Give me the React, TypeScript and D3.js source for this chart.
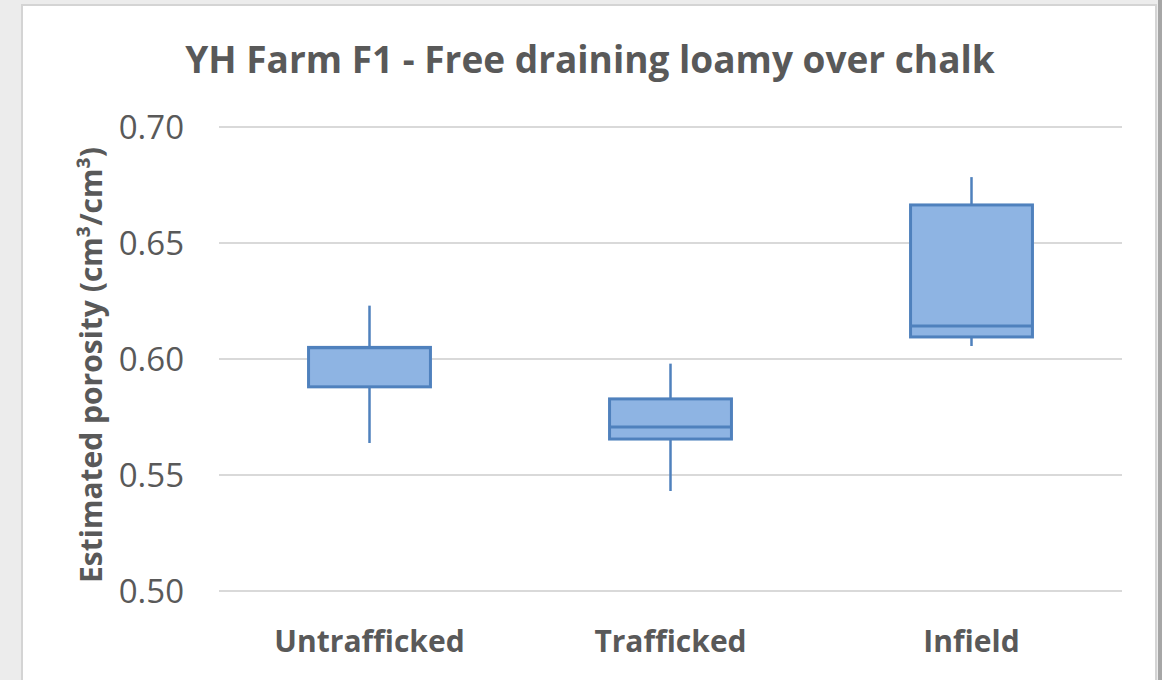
import React, { useRef, useEffect } from 'react';
import * as d3 from 'd3';

const categories = ['Untrafficked', 'Trafficked', 'Infield'];
const whiskerLow = [0.5638, 0.5431, 0.6056];
const q1 = [0.588, 0.5655, 0.6095];
const median = [0.6048, 0.5707, 0.6142];
const q3 = [0.605, 0.5828, 0.6664];
const whiskerHigh = [0.623, 0.598, 0.6784];
const yTicks = [0.5, 0.55, 0.6, 0.65, 0.7];

const title = 'YH Farm F1 - Free draining loamy over chalk';
const yLabel = 'Estimated porosity (cm³/cm³)';

const App = () => {
  const ref = useRef<SVGSVGElement>(null);

  useEffect(() => {
    const svg = d3.select(ref.current);
    svg.selectAll('*').remove();

    const width = 1162;
    const height = 680;
    const margin = { top: 127, right: 40, bottom: 89, left: 219 };
    const font = "'Open Sans', sans-serif";
    const textColor = '#595959';

    // frame / background
    svg.append('rect').attr('width', width).attr('height', height).attr('fill', '#ececec');
    svg.append('rect')
      .attr('x', 22).attr('y', 5)
      .attr('width', 1134).attr('height', height)
      .attr('fill', 'white')
      .attr('stroke', '#d4d4d4')
      .attr('stroke-width', 2);
    svg.append('rect').attr('x', 1158).attr('y', 0).attr('width', 4).attr('height', height).attr('fill', '#a6a6a6');

    const x = d3.scaleBand()
      .domain(categories)
      .range([margin.left, width - margin.right])
      .padding(0);

    const y = d3.scaleLinear()
      .domain([0.5, 0.7])
      .range([height - margin.bottom, margin.top]);

    // gridlines
    svg.append('g')
      .selectAll('line')
      .data(yTicks)
      .enter()
      .append('line')
      .attr('x1', margin.left)
      .attr('x2', width - margin.right)
      .attr('y1', d => y(d))
      .attr('y2', d => y(d))
      .attr('stroke', '#d9d9d9')
      .attr('stroke-width', 2);

    // y tick labels
    svg.append('g')
      .selectAll('text')
      .data(yTicks)
      .enter()
      .append('text')
      .attr('x', 184)
      .attr('y', d => y(d))
      .attr('dy', '0.35em')
      .attr('text-anchor', 'end')
      .attr('font-family', font)
      .attr('font-size', 33)
      .attr('fill', textColor)
      .text(d => d.toFixed(2));

    // x labels
    svg.append('g')
      .selectAll('text')
      .data(categories)
      .enter()
      .append('text')
      .attr('x', d => (x(d) as number) + x.bandwidth() / 2)
      .attr('y', 652)
      .attr('text-anchor', 'middle')
      .attr('font-family', font)
      .attr('font-weight', 'bold')
      .attr('font-size', 30)
      .attr('fill', textColor)
      .text(d => d);

    // boxes
    const boxW = x.bandwidth() * 0.405;
    const stroke = '#4f81bd';
    const g = svg.append('g');
    categories.forEach((c, i) => {
      const cx = (x(c) as number) + x.bandwidth() / 2;
      g.append('line')
        .attr('x1', cx).attr('x2', cx)
        .attr('y1', y(whiskerHigh[i])).attr('y2', y(q3[i]))
        .attr('stroke', stroke).attr('stroke-width', 2.5);
      g.append('line')
        .attr('x1', cx).attr('x2', cx)
        .attr('y1', y(q1[i])).attr('y2', y(whiskerLow[i]))
        .attr('stroke', stroke).attr('stroke-width', 2.5);
      g.append('rect')
        .attr('x', cx - boxW / 2)
        .attr('y', y(q3[i]))
        .attr('width', boxW)
        .attr('height', y(q1[i]) - y(q3[i]))
        .attr('fill', '#8eb4e3')
        .attr('stroke', stroke)
        .attr('stroke-width', 3);
      g.append('line')
        .attr('x1', cx - boxW / 2).attr('x2', cx + boxW / 2)
        .attr('y1', y(median[i])).attr('y2', y(median[i]))
        .attr('stroke', stroke).attr('stroke-width', 3);
    });

    // title
    svg.append('text')
      .attr('x', 590)
      .attr('y', 73)
      .attr('text-anchor', 'middle')
      .attr('font-family', font)
      .attr('font-weight', 'bold')
      .attr('font-size', 37)
      .attr('fill', textColor)
      .text(title);

    // y axis label
    svg.append('text')
      .attr('transform', `translate(102,365) rotate(-90)`)
      .attr('text-anchor', 'middle')
      .attr('font-family', font)
      .attr('font-weight', 'bold')
      .attr('font-size', 30)
      .attr('fill', textColor)
      .text(yLabel);
  }, []);

  return <svg ref={ref} width={1162} height={680} style={{ display: 'block', position: 'absolute', left: 0, top: 0 }}></svg>;
};

export default App;
